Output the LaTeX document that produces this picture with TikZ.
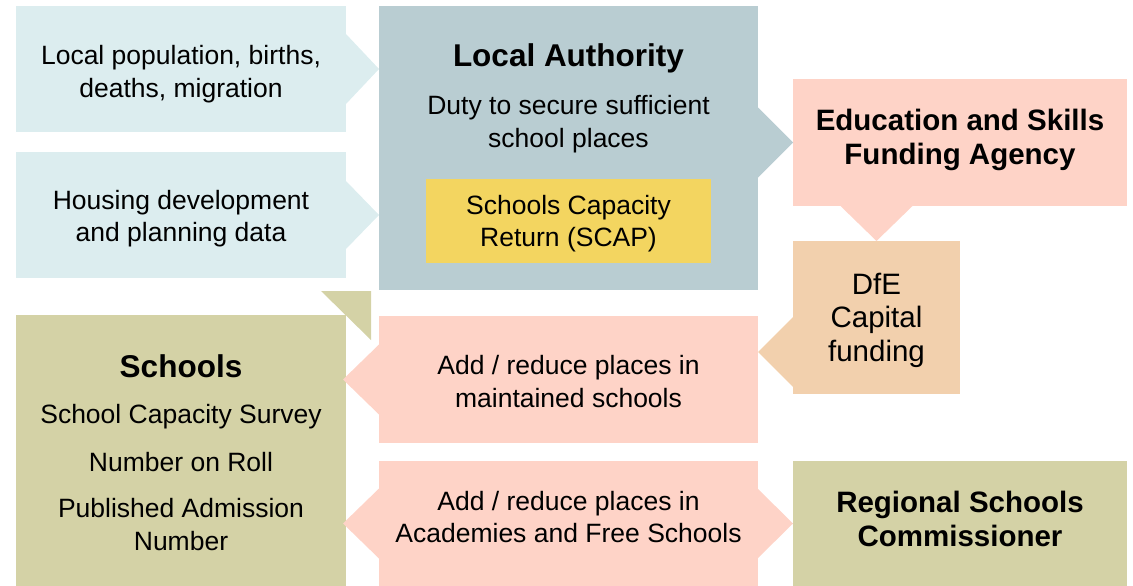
\documentclass[tikz,border=0pt]{standalone}
\usepackage{fontspec}
\setmainfont{Liberation Sans}
\usetikzlibrary{calc}
\definecolor{cpop}{HTML}{DCEDEF}
\definecolor{cla}{HTML}{B9CDD2}
\definecolor{cscap}{HTML}{F3D560}
\definecolor{cpink}{HTML}{FED3C7}
\definecolor{cdfe}{HTML}{F2D0AD}
\definecolor{colive}{HTML}{D4D2A6}
\begin{document}
\begin{tikzpicture}[x=1pt,y=-1pt,
  box/.style={inner sep=0pt, outer sep=0pt},
  ttl/.style={inner sep=0pt, align=center, font=\fontsize{31.5}{34}\selectfont\bfseries},
  btxt/.style={inner sep=0pt, align=center, font=\fontsize{29.5}{34.5}\selectfont\bfseries},
  txt/.style={inner sep=0pt, align=center, font=\fontsize{26.5}{32.5}\selectfont}]
\useasboundingbox (0,0) rectangle (1133,586);
% boxes
\node[box, fill=cpop, minimum width=330pt, minimum height=126pt] (pop) at (181,69) {};
\node[txt] (poptext) at (181,74) {Local population, births,\\deaths, migration};
\node[box, fill=cpop, minimum width=330pt, minimum height=126pt] (house) at (181,215) {};
\node[txt] (housetext) at (181,218.5) {Housing development\\and planning data};
\node[box, fill=cla, minimum width=379pt, minimum height=284pt] (la) at (568.5,148) {};
\node[ttl] (latitle) at (568.5,58) {Local Authority};
\node[txt] (laduty) at (568.5,124) {Duty to secure sufficient\\school places};
\node[box, fill=cscap, minimum width=285pt, minimum height=84pt] (scap) at (568.5,221) {};
\node[txt] (scaptext) at (568.5,223.5) {Schools Capacity\\Return (SCAP)};
\node[box, fill=cpink, minimum width=334pt, minimum height=127pt] (esfa) at (960,142.5) {};
\node[btxt] (esfatext) at (960,140) {Education and Skills\\Funding Agency};
\node[box, fill=cdfe, minimum width=167pt, minimum height=153pt] (dfe) at (876.5,317.5) {};
\node[txt, font=\fontsize{29.5}{33.5}\selectfont] (dfetext) at (876.5,320) {DfE\\Capital\\funding};
\node[box, fill=colive, minimum width=330pt, minimum height=271pt] (schools) at (181,450.5) {};
\node[ttl] (stitle) at (181,366) {Schools};
\node[txt] (scs) at (181,416.5) {School Capacity Survey};
\node[txt] (nor) at (181,462) {Number on Roll};
\node[txt] (pan) at (181,524.5) {Published Admission\\Number};
\node[box, fill=cpink, minimum width=379pt, minimum height=127pt] (pink1) at (568.5,379.5) {};
\node[txt] (pink1text) at (568.5,381.5) {Add / reduce places in\\maintained schools};
\node[box, fill=cpink, minimum width=379pt, minimum height=125pt] (pink2) at (568.5,523.5) {};
\node[txt] (pink2text) at (568.5,517) {Add / reduce places in\\Academies and Free Schools};
\node[box, fill=colive, minimum width=334pt, minimum height=125pt] (rsc) at (960,523.5) {};
\node[btxt] (rsctext) at (960,519) {Regional Schools\\Commissioner};
% arrow heads
\fill[cpop] ($(pop.east)+(0,-35)$) -- (la.west |- pop.east) -- ($(pop.east)+(0,35)$) -- cycle;
\fill[cpop] ($(house.east)+(0,-34)$) -- (la.west |- house.east) -- ($(house.east)+(0,34)$) -- cycle;
\fill[cla] ($(la.east |- esfa.west)+(0,-35)$) -- (esfa.west) -- ($(la.east |- esfa.west)+(0,35)$) -- cycle;
\fill[cpink] ($(dfe.north |- esfa.south)+(-36,0)$) -- (dfe.north) -- ($(dfe.north |- esfa.south)+(36,0)$) -- cycle;
\coordinate (dfetip) at ($(pink1.east |- dfe.west)+(0,34.5)$);
\fill[cdfe] ($(dfe.west |- dfetip)+(0,-35)$) -- (dfetip) -- ($(dfe.west |- dfetip)+(0,35)$) -- cycle;
\fill[cpink] ($(pink1.west)+(0,-35)$) -- ($(schools.east |- pink1.west)+(-3,0)$) -- ($(pink1.west)+(0,35)$) -- cycle;
\fill[cpink] ($(pink2.west)+(0,-35)$) -- ($(schools.east |- pink2.west)+(-3,0)$) -- ($(pink2.west)+(0,35)$) -- cycle;
\fill[cpink] ($(pink2.east)+(0,-34.5)$) -- (rsc.west |- pink2.east) -- ($(pink2.east)+(0,34.5)$) -- cycle;
\fill[colive] ($(la.south west)+(-58,1)$) -- ($(la.south west)+(-8,1)$) -- ($(la.south west)+(-8,50)$) -- cycle;
\end{tikzpicture}
\end{document}
